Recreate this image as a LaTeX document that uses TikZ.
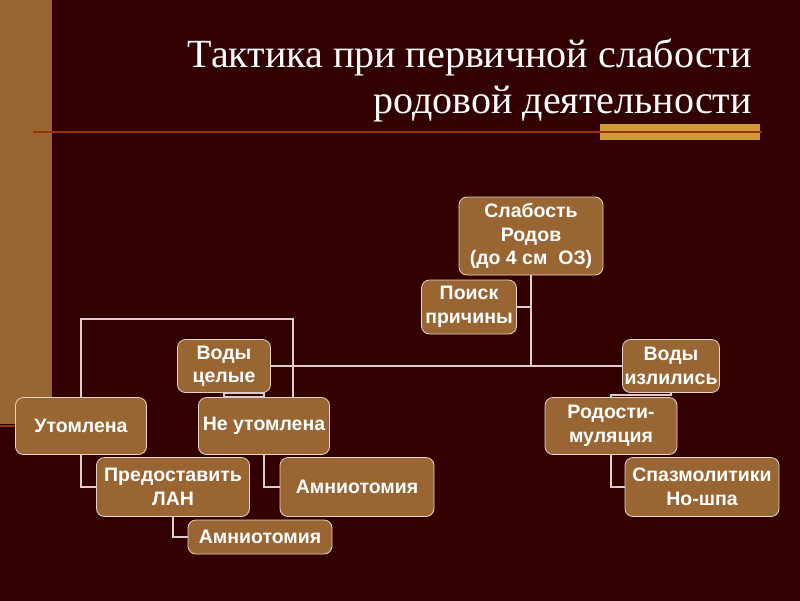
\documentclass[tikz,border=0pt]{standalone}
\usepackage{fontspec}
\setmainfont{Liberation Sans}
\newfontfamily\titlefont{Liberation Serif}
\usepackage{xcolor}
\usepackage{tikz}

\definecolor{slidebg}{RGB}{50,0,0}
\definecolor{sidebar}{RGB}{153,102,51}
\definecolor{goldbar}{RGB}{208,154,56}
\definecolor{rulered}{RGB}{153,51,0}
\definecolor{boxfill}{RGB}{153,102,51}
\definecolor{boxedge}{RGB}{232,212,196}
\definecolor{linkgray}{RGB}{222,204,204}

\begin{document}
\begin{tikzpicture}[x=1pt,y=-1pt]
        % Define styles
        \tikzset{
            block/.style={rectangle, rounded corners=8pt, draw=boxedge, line width=0.8pt, fill=boxfill,
                text=white, font=\fontsize{19.5}{23.5}\selectfont\bfseries, align=center, inner sep=2pt},
            link/.style={draw=linkgray, line width=2pt},
            heading/.style={text=white, font=\titlefont\fontsize{40}{46}\selectfont, inner sep=0pt}
        }

        % Background
        \useasboundingbox (0,0) rectangle (800,600);
        \fill[slidebg] (-2,-2) rectangle (802,602);
        \fill[sidebar] (-2,-2) rectangle (52,424);
        \draw[rulered, line width=2pt] (-2,426) -- (52,426);
        \fill[goldbar] (600,124) rectangle (760,140);
        \draw[rulered, line width=2.5pt] (33,132) -- (762,132);

        % Title
        \node[heading, anchor=base east] (title_1) at (752,67) {Тактика при первичной слабости};
        \node[heading, anchor=base east] (title_2) at (752,113) {родовой деятельности};

        % Nodes
        \node[block, minimum width=144pt, minimum height=78pt] (weak) at (531,236) {Слабость\\Родов\\(до 4 см~~ОЗ)};
        \node[block, minimum width=95pt, minimum height=54pt] (cause) at (469,307) {Поиск\\причины};
        \node[block, minimum width=93pt, minimum height=53pt] (intact) at (224,366) {Воды\\целые};
        \node[block, minimum width=94pt, minimum height=53pt] (ruptured) at (671,366) {Воды\\излились};
        \node[block, minimum width=131pt, minimum height=57pt] (tired) at (81,426) {Утомлена};
        \node[block, minimum width=131pt, minimum height=57pt] (not_tired) at (264,426) {Не утомлена};
        \node[block, minimum width=153pt, minimum height=59pt] (rest) at (173,487) {Предоставить\\ЛАН};
        \node[block, minimum width=154pt, minimum height=59pt] (amnio_1) at (357,487) {Амниотомия};
        \node[block, minimum width=144pt, minimum height=34pt] (amnio_2) at (260,537) {Амниотомия};
        \node[block, minimum width=132pt, minimum height=57pt] (stim) at (611,426) {Родости-\\муляция};
        \node[block, minimum width=154pt, minimum height=59pt] (spasm) at (702,487) {Спазмолитики\\Но-шпа};

        % Lines
        \coordinate (hub) at (531,366);
        \coordinate (bracket) at (293,319);
        \draw[link] (weak.south) -- (hub);
        \draw[link] (cause.east) -- (cause.east -| hub);
        \draw[link] (intact.east) -- (ruptured.west);
        \draw[link] (tired.north) |- (bracket) -- (bracket |- not_tired.north);
        \draw[link] (intact.south) rectangle (not_tired.north);
        \draw[link] (ruptured.south) -- ++(0,2.5) -| (stim.north);
        \draw[link] (tired.south) |- (rest.west);
        \draw[link] (rest.south) |- (amnio_2.west);
        \draw[link] (not_tired.south) |- (amnio_1.west);
        \draw[link] (stim.south) |- (spasm.west);
\end{tikzpicture}
\end{document}
